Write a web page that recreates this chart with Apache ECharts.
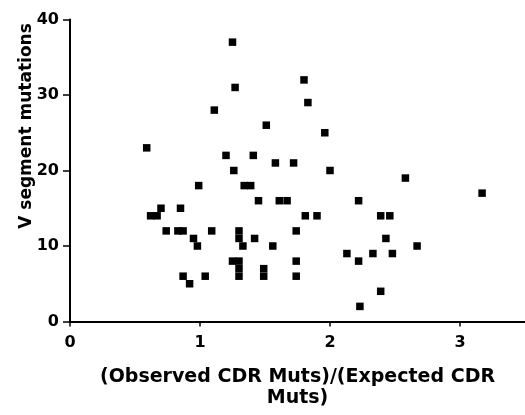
<!DOCTYPE html>
<html>
<head>
<meta charset="utf-8">
<script src="https://cdn.jsdelivr.net/npm/echarts@6/dist/echarts.min.js"></script>
<style>html,body{margin:0;padding:0;background:#fff}#c{width:525px;height:415px}</style>
</head>
<body>
<div id="c"></div>
<script>
// Ratio of observed to expected CDR mutations (x) and V segment mutations (y)
var ratioValues = [
  0.59, 0.62, 0.67, 0.70, 0.74, 0.83, 0.87, 0.85, 0.87, 0.92,
  0.95, 0.98, 0.99, 1.04, 1.09, 1.11, 1.20, 1.25, 1.27, 1.26,
  1.25, 1.30, 1.30, 1.30, 1.30, 1.30, 1.33, 1.34, 1.39, 1.41,
  1.42, 1.45, 1.49, 1.49, 1.51, 1.56, 1.58, 1.61, 1.67, 1.72,
  1.74, 1.74, 1.74, 1.80, 1.81, 1.83, 1.90, 1.96, 2.00, 2.13,
  2.22, 2.22, 2.23, 2.33, 2.39, 2.39, 2.43, 2.46, 2.48, 2.58,
  2.67, 3.17
];
var mutationValues = [
  23, 14, 14, 15, 12, 12, 12, 15, 6, 5,
  11, 10, 18, 6, 12, 28, 22, 37, 31, 20,
  8, 8, 12, 11, 7, 6, 10, 18, 18, 22,
  11, 16, 7, 6, 26, 10, 21, 16, 16, 21,
  12, 8, 6, 32, 14, 29, 14, 25, 20, 9,
  16, 8, 2, 9, 4, 14, 11, 14, 9, 19,
  10, 17
];
var xTicks = [0, 1, 2, 3];
var yTicks = [0, 10, 20, 30, 40];
var xTitle = '(Observed CDR Muts)/(Expected CDR\nMuts)';
var yTitle = 'V segment mutations';

var points = ratioValues.map(function (x, i) { return [x, mutationValues[i]]; });

var chart = echarts.init(document.getElementById('c'), null, {renderer: 'canvas'});
var font = 'DejaVu Sans';
chart.setOption({
  backgroundColor: '#fff',
  animation: false,
  grid: {left: 70, top: 19.5, width: 458, height: 302, containLabel: false},
  xAxis: {
    type: 'value', min: 0, max: 3.5, interval: 0.5,
    axisLine: {show: true, onZero: false, lineStyle: {color: '#000', width: 2}},
    axisTick: {show: true, length: 5, lineStyle: {color: '#000', width: 1.5},
      customValues: xTicks},
    axisLabel: {show: true, margin: 13, color: '#000', fontFamily: font, fontWeight: 'bold', fontSize: 16,
      customValues: xTicks},
    splitLine: {show: false},
    name: xTitle, nameLocation: 'middle', nameGap: 45,
    nameTextStyle: {color: '#000', fontFamily: font, fontWeight: 'bold', fontSize: 19, lineHeight: 21}
  },
  yAxis: {
    type: 'value', min: 0, max: 40, interval: 10,
    axisLine: {show: true, onZero: false, lineStyle: {color: '#000', width: 2}},
    axisTick: {show: true, length: 7, lineStyle: {color: '#000', width: 1.5}},
    axisLabel: {show: true, margin: 11, color: '#000', fontFamily: font, fontWeight: 'bold', fontSize: 16},
    splitLine: {show: false}
  },
  graphic: [{
    type: 'text', x: 27, y: 126, rotation: Math.PI / 2,
    style: {text: yTitle, fill: '#000', font: 'bold 17px "DejaVu Sans"', align: 'center', verticalAlign: 'middle'}
  }],
  series: [{
    type: 'scatter', data: points, symbol: 'rect', symbolSize: 7.5,
    itemStyle: {color: '#000', opacity: 1}
  }]
});
</script>
</body>
</html>
